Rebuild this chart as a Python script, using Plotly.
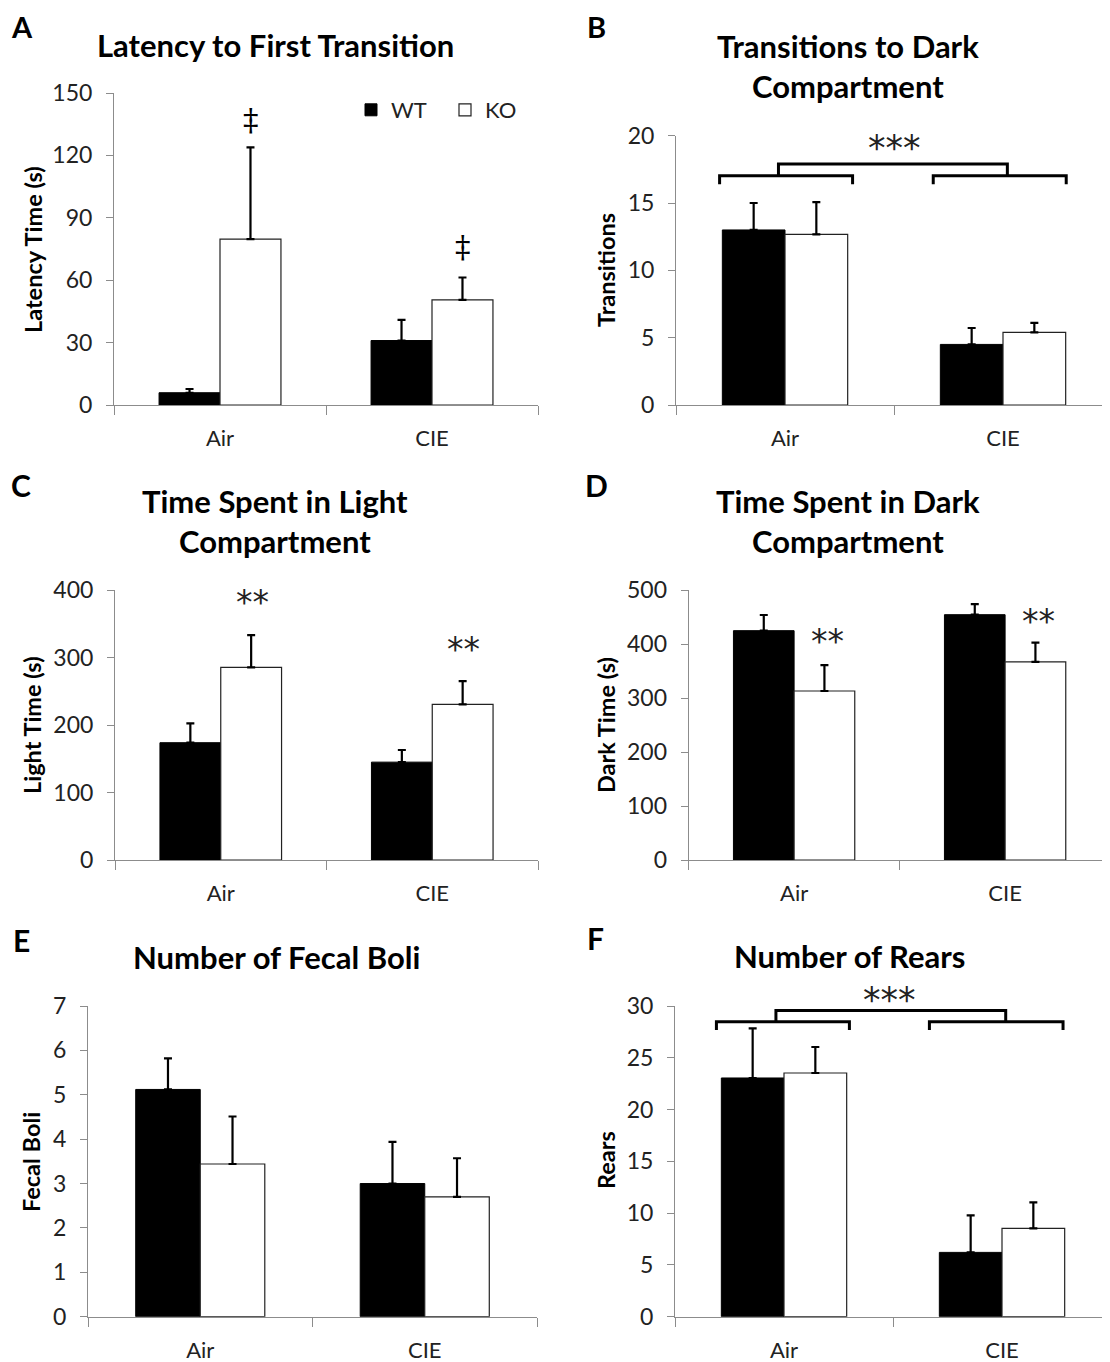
import plotly.graph_objects as go

W, H = 1110, 1362
OFF = 8  # page body margin in the browser
FONT = "Lato"

groups = ["Air", "CIE"]
legend_names = ["WT", "KO"]

# Panel A: Latency to First Transition
lat_wt = [5.9, 31.0]
lat_wt_err = [1.8, 9.9]
lat_ko = [79.7, 50.5]
lat_ko_err = [44.2, 10.8]

# Panel B: Transitions to Dark Compartment
tr_wt = [13.0, 4.5]
tr_wt_err = [2.0, 1.22]
tr_ko = [12.67, 5.4]
tr_ko_err = [2.4, 0.7]

# Panel C: Time Spent in Light Compartment
light_wt = [173.8, 145.0]
light_wt_err = [28.7, 18.0]
light_ko = [285.4, 230.6]
light_ko_err = [47.6, 34.4]

# Panel D: Time Spent in Dark Compartment
dark_wt = [424.7, 454.3]
dark_wt_err = [29.0, 19.7]
dark_ko = [313.0, 367.0]
dark_ko_err = [48.0, 35.5]

# Panel E: Number of Fecal Boli
boli_wt = [5.12, 3.0]
boli_wt_err = [0.70, 0.94]
boli_ko = [3.44, 2.70]
boli_ko_err = [1.07, 0.87]

# Panel F: Number of Rears
rears_wt = [23.05, 6.21]
rears_wt_err = [4.79, 3.57]
rears_ko = [23.53, 8.53]
rears_ko_err = [2.51, 2.51]

titles = {
    "A": ["Latency to First Transition"],
    "B": ["Transitions to Dark", "Compartment"],
    "C": ["Time Spent in Light", "Compartment"],
    "D": ["Time Spent in Dark", "Compartment"],
    "E": ["Number of Fecal Boli"],
    "F": ["Number of Rears"],
}
ytitles = {"A": "Latency Time (s)", "B": "Transitions", "C": "Light Time (s)",
           "D": "Dark Time (s)", "E": "Fecal Boli", "F": "Rears"}
yranges = {"A": (150, 30), "B": (20, 5), "C": (400, 100), "D": (500, 100), "E": (7, 1), "F": (30, 5)}

data = {
    "A": (lat_wt, lat_wt_err, lat_ko, lat_ko_err),
    "B": (tr_wt, tr_wt_err, tr_ko, tr_ko_err),
    "C": (light_wt, light_wt_err, light_ko, light_ko_err),
    "D": (dark_wt, dark_wt_err, dark_ko, dark_ko_err),
    "E": (boli_wt, boli_wt_err, boli_ko, boli_ko_err),
    "F": (rears_wt, rears_wt_err, rears_ko, rears_ko_err),
}

# significance marks: (panel, x, y, text); y None -> placed above the plot area in pixels
sig_marks = [
    ("A", 0.145, 137, "‡"), ("A", 1.145, 76, "‡"),
    ("C", 0.15, 382, "**"), ("C", 1.15, 312, "**"),
    ("D", 0.16, 405, "**"), ("D", 1.16, 442, "**"),
    ("B", 0.5, 19.1, "***"), ("F", 0.485, None, "***"),
]
above_y_px = {"F": 979}  # top of the text box

# bracket geometry (data units): left bracket, right bracket, top bracket
brackets = {
    "B": dict(low=16.39, mid=17.03, top=17.9,
              left=(-0.30, 0.31), right=(0.68, 1.29), span=(-0.03, 1.02)),
    "F": dict(low=27.68, mid=28.48, top=29.57,
              left=(-0.31, 0.30), right=(0.667, 1.28), span=(-0.037, 1.017)),
}

# layout geometry in reference pixels: x-left, x-right(visible), category width, y-top, y-bottom
geom = {
    "A": (114, 538, 212, 93, 405),
    "B": (676, 1110, 218, 135.7, 405),
    "C": (115, 538, 211.5, 590, 860),
    "D": (688.6, 1110, 211, 590, 860),
    "E": (88, 537, 224.5, 1006, 1316.7),
    "F": (675, 1110, 218, 1006, 1316.7),
}
letter_pos = {"A": (22, 20), "B": (596, 21), "C": (21, 485), "D": (596, 485), "E": (21, 940), "F": (595, 938)}
title_pos = {"A": (275, [45]), "B": (848, [46, 86]), "C": (275, [501, 541]),
             "D": (848, [501, 541]), "E": (276, [957]), "F": (849, [956])}
ytitle_pos = {"A": (33, 250), "B": (606, 270), "C": (32, 725), "D": (606, 725),
              "E": (31, 1162), "F": (606, 1160)}


def px(x):
    return (x - OFF) / W


def py(y):
    return 1 - (y - OFF) / H


AXIS_GRAY = "#8c8c8c"
fig = go.Figure()
annotations = []
layout = {}

for i, p in enumerate(["A", "B", "C", "D", "E", "F"]):
    n = "" if i == 0 else str(i + 1)
    xa, ya = "x" + n, "y" + n
    wt, wte, ko, koe = data[p]
    fig.add_trace(go.Bar(
        x=[0, 1], y=wt, name=legend_names[0], xaxis=xa, yaxis=ya,
        marker=dict(color="black", line=dict(color="black", width=1)),
        error_y=dict(type="data", array=wte, arrayminus=[0, 0], symmetric=False,
                     color="black", thickness=2.2, width=4),
        showlegend=(p == "A"), legendgroup="wt"))
    fig.add_trace(go.Bar(
        x=[0, 1], y=ko, name=legend_names[1], xaxis=xa, yaxis=ya,
        marker=dict(color="white", line=dict(color="#222222", width=1.2)),
        error_y=dict(type="data", array=koe, arrayminus=[0, 0], symmetric=False,
                     color="black", thickness=2.2, width=4),
        showlegend=(p == "A"), legendgroup="ko"))

    xl, xr, cw, yt, yb = geom[p]
    xmax = -0.5 + (xr - xl) / cw
    ymax, dt = yranges[p]
    layout["xaxis" + n] = dict(
        domain=[px(xl), px(xr)], range=[-0.5, xmax], anchor=ya, automargin=False,
        tickvals=[0, 1], ticktext=groups, ticks="", showgrid=False, zeroline=False,
        showline=True, linecolor=AXIS_GRAY, linewidth=1,
        tickfont=dict(family=FONT, size=22, color="#222"), ticklabelstandoff=14,
        minor=dict(tickvals=[-0.5, 0.5, 1.5], ticks="outside", ticklen=9,
                   tickcolor=AXIS_GRAY, tickwidth=1, showgrid=False),
        fixedrange=True)
    layout["yaxis" + n] = dict(
        domain=[py(yb), py(yt)], range=[0, ymax], dtick=dt, anchor=xa, automargin=False,
        ticks="outside", ticklen=7, tickcolor=AXIS_GRAY, tickwidth=1,
        showgrid=False, zeroline=False, showline=True, linecolor=AXIS_GRAY, linewidth=1,
        tickfont=dict(family=FONT, size=23, color="#222"), ticklabelstandoff=9,
        fixedrange=True)

    lx, ly = letter_pos[p]
    if ly - OFF < 20:
        # keep the letter's text box inside the page top
        annotations.append(dict(text="<b>%s</b>" % p, x=px(lx), y=1.0, xref="paper", yref="paper",
                                showarrow=False, xanchor="center", yanchor="top", borderpad=0,
                                font=dict(family=FONT, size=29, color="black")))
    else:
        annotations.append(dict(text="<b>%s</b>" % p, x=px(lx), y=py(ly), xref="paper", yref="paper",
                                showarrow=False, xanchor="center", yanchor="middle",
                                font=dict(family=FONT, size=30, color="black")))
    tx, tys = title_pos[p]
    for line, ty in zip(titles[p], tys):
        annotations.append(dict(text="<b>%s</b>" % line, x=px(tx), y=py(ty), xref="paper", yref="paper",
                                showarrow=False, xanchor="center", yanchor="middle",
                                font=dict(family=FONT, size=31, color="black")))
    yx, yy = ytitle_pos[p]
    annotations.append(dict(text="<b>%s</b>" % ytitles[p], x=px(yx), y=py(yy), xref="paper", yref="paper",
                            showarrow=False, xanchor="center", yanchor="middle", textangle=-90,
                            font=dict(family=FONT, size=23.5, color="black")))

axis_of = {p: ("" if i == 0 else str(i + 1)) for i, p in enumerate(["A", "B", "C", "D", "E", "F"])}

for p, b in brackets.items():
    n = axis_of[p]
    segs = [
        ([b["left"][0], b["left"][0], b["left"][1], b["left"][1]], [b["low"], b["mid"], b["mid"], b["low"]]),
        ([b["right"][0], b["right"][0], b["right"][1], b["right"][1]], [b["low"], b["mid"], b["mid"], b["low"]]),
        ([b["span"][0], b["span"][0], b["span"][1], b["span"][1]], [b["mid"], b["top"], b["top"], b["mid"]]),
    ]
    for xs, ys in segs:
        fig.add_trace(go.Scatter(x=xs, y=ys, mode="lines", xaxis="x" + n, yaxis="y" + n,
                                 line=dict(color="black", width=3), showlegend=False,
                                 cliponaxis=False, hoverinfo="skip"))

for p, x, y, t in sig_marks:
    n = axis_of[p]
    if t == "‡":
        f = dict(family="DejaVu Serif", size=31, color="black")
    elif t == "***":
        f = dict(family="DejaVu Sans", size=35, color="#222")
    else:
        f = dict(family="DejaVu Sans", size=33, color="#222")
    if y is None:
        annotations.append(dict(text=t, x=x, y=py(above_y_px[p]), xref="x" + n, yref="paper",
                                showarrow=False, xanchor="center", yanchor="top", borderpad=0,
                                font=f))
    else:
        annotations.append(dict(text=t, x=x, y=y, xref="x" + n, yref="y" + n, showarrow=False,
                                xanchor="center", yanchor="middle", font=f))

fig.update_layout(
    template="none",
    width=W, height=H, margin=dict(l=0, r=0, t=0, b=0, pad=0, autoexpand=False),
    paper_bgcolor="white", plot_bgcolor="white",
    barmode="group", bargap=0.425, bargroupgap=0,
    annotations=annotations,
    legend=dict(orientation="h", x=px(351), y=py(110), xanchor="left", yanchor="middle",
                font=dict(family=FONT, size=22, color="#222"), bgcolor="rgba(0,0,0,0)",
                entrywidth=49, entrywidthmode="pixels",
                itemclick=False, itemdoubleclick=False, traceorder="normal"),
    **layout,
)

fig.write_html("out.html")
